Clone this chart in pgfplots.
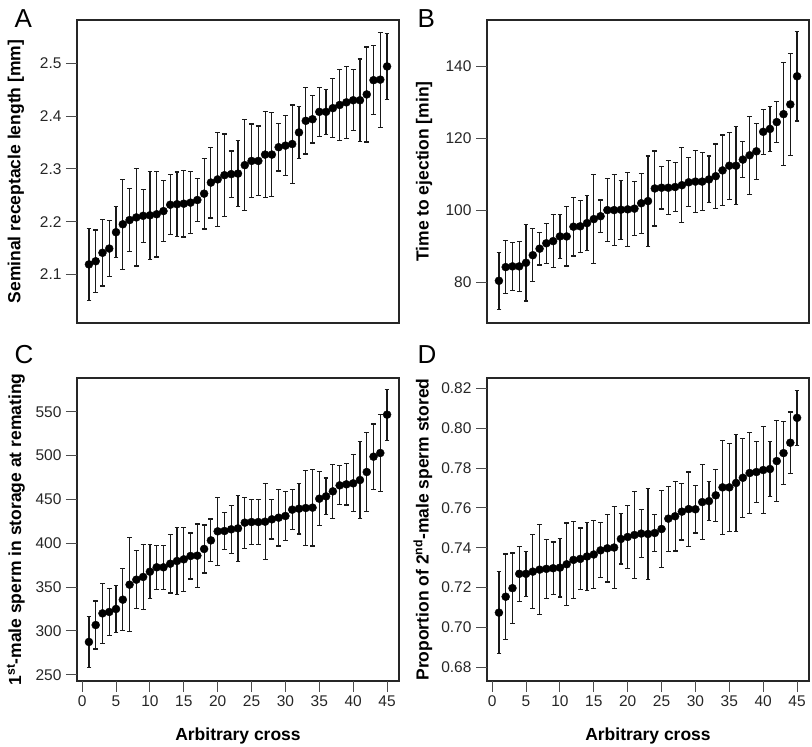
\documentclass[border=0pt]{standalone}
\usepackage{fontspec}
\setmainfont{Liberation Sans}
\usepackage{pgfplots}
\usepackage{pgfplotstable}
\pgfplotsset{compat=1.18}

% x = arbitrary cross, y = mean, e = half-width of the error bar
\pgfplotstableread{
x y e
1 2.119 0.068
2 2.125 0.059
3 2.141 0.063
4 2.149 0.053
5 2.180 0.048
6 2.195 0.085
7 2.203 0.060
8 2.208 0.092
9 2.211 0.050
10 2.212 0.083
11 2.214 0.081
12 2.220 0.058
13 2.232 0.057
14 2.233 0.061
15 2.234 0.063
16 2.236 0.059
17 2.241 0.041
18 2.253 0.067
19 2.274 0.067
20 2.280 0.089
21 2.288 0.078
22 2.290 0.044
23 2.291 0.063
24 2.307 0.086
25 2.315 0.070
26 2.315 0.066
27 2.327 0.082
28 2.327 0.079
29 2.341 0.045
30 2.344 0.057
31 2.347 0.074
32 2.369 0.049
33 2.391 0.063
34 2.394 0.045
35 2.408 0.046
36 2.408 0.043
37 2.415 0.056
38 2.421 0.067
39 2.426 0.068
40 2.430 0.058
41 2.430 0.078
42 2.441 0.090
43 2.468 0.065
44 2.469 0.090
45 2.494 0.062
}\tabA

\pgfplotstableread{
x y e
1 80.5 7.9
2 84.3 7.3
3 84.5 6.7
4 84.5 6.9
5 85.5 10.6
6 87.6 7.3
7 89.4 4.5
8 90.9 5.5
9 91.5 7.3
10 92.8 6.1
11 92.8 8.2
12 95.5 8.1
13 95.6 7.2
14 96.5 7.6
15 97.6 12.3
16 98.4 4.5
17 100.1 8.7
18 100.1 9.9
19 100.2 8.2
20 100.3 10.2
21 100.5 7.5
22 102.0 8.3
23 102.6 12.5
24 106.1 10.4
25 106.3 5.9
26 106.3 7.5
27 106.5 6.7
28 107.0 10.4
29 107.8 6.8
30 108.0 8.6
31 108.0 8.0
32 108.6 6.5
33 109.5 8.9
34 111.1 9.8
35 112.4 9.3
36 112.4 10.8
37 114.1 5.0
38 115.3 10.8
39 116.4 7.8
40 121.8 6.2
41 122.6 6.2
42 124.5 5.6
43 126.7 14.3
44 129.4 14.1
45 137.2 12.4
}\tabB

\pgfplotstableread{
x y e
1 287.5 29.4
2 306.8 27.3
3 320.1 34.4
4 321.7 27.0
5 325.1 26.6
6 335.7 35.5
7 352.8 53.6
8 358.5 33.1
9 361.6 37.2
10 367.6 30.8
11 372.6 25.3
12 372.6 25.3
13 376.7 33.4
14 379.8 38.2
15 381.7 36.5
16 385.5 26.2
17 385.9 36.1
18 393.5 27.4
19 403.3 24.3
20 413.6 38.9
21 414.0 21.5
22 415.9 27.2
23 417.0 37.6
24 423.5 29.1
25 424.2 25.5
26 424.2 25.5
27 424.6 43.3
28 427.3 22.4
29 429.2 32.3
30 431.1 27.9
31 438.3 23.0
32 439.4 28.9
33 440.2 42.9
34 440.6 43.7
35 450.8 30.6
36 453.5 20.9
37 459.2 30.6
38 466.0 22.2
39 467.2 23.6
40 468.3 32.5
41 472.1 43.5
42 481.2 45.0
43 498.7 37.2
44 502.9 43.5
45 546.6 29.1
}\tabC

\pgfplotstableread{
x y e
1 0.7074 0.0205
2 0.7154 0.0215
3 0.7197 0.0177
4 0.7269 0.0137
5 0.7269 0.0112
6 0.7280 0.0187
7 0.7290 0.0226
8 0.7294 0.0148
9 0.7297 0.0132
10 0.7300 0.0147
11 0.7317 0.0207
12 0.7339 0.0192
13 0.7344 0.0155
14 0.7356 0.0169
15 0.7366 0.0170
16 0.7387 0.0138
17 0.7397 0.0169
18 0.7401 0.0205
19 0.7444 0.0126
20 0.7454 0.0157
21 0.7464 0.0220
22 0.7471 0.0119
23 0.7469 0.0229
24 0.7474 0.0092
25 0.7494 0.0193
26 0.7546 0.0163
27 0.7558 0.0174
28 0.7581 0.0142
29 0.7594 0.0186
30 0.7593 0.0119
31 0.7629 0.0189
32 0.7634 0.0097
33 0.7663 0.0130
34 0.7703 0.0235
35 0.7703 0.0220
36 0.7725 0.0245
37 0.7751 0.0199
38 0.7775 0.0205
39 0.7780 0.0153
40 0.7790 0.0220
41 0.7795 0.0139
42 0.7835 0.0203
43 0.7875 0.0158
44 0.7927 0.0154
45 0.8052 0.0137
}\tabD

\pgfplotsset{
  panel/.style={
    width=322pt, height=303pt, scale only axis,
    xmin=-0.76, xmax=46.76,
    clip=false,
    axis line style={line width=1.3pt, black!85},
    tick align=outside,
    major tick length=11pt,
    tick style={line width=1pt, black!75},
    xtick pos=left, ytick pos=left,
    ticklabel style={font=\fontsize{15.5}{18}\selectfont, text=black!85},
    yticklabel style={xshift=-1pt},
    label style={font=\bfseries\fontsize{17.5}{20}\selectfont},
    ylabel style={at={(axis description cs:-0.19,0.5)}, anchor=center},
    xlabel style={at={(axis description cs:0.5,-0.195)}, anchor=base},
    xtick={0,5,...,45},
  },
  notx/.style={xtick=\empty},
  pts/.style={only marks, mark=*, mark size=4pt, black,
    error bars/.cd, y dir=both, y explicit,
    error bar style={line width=1.2pt, black!90},
    error mark options={rotate=90, mark size=2.4pt, line width=1.2pt, black!90}},
}
\tikzset{tk/.style={line width=1pt, black!70}}

\begin{document}
\begin{tikzpicture}
\useasboundingbox (0,0) rectangle (812pt,747pt);

% A
\begin{axis}[panel, notx, at={(77pt,424pt)},
  ymin=2.008, ymax=2.582,
  ytick={2.1,2.2,2.3,2.4,2.5}, yticklabels={2.1,2.2,2.3,2.4,2.5},
  ylabel={Seminal receptacle length [mm]}]
\addplot[pts] table[x=x, y=y, y error=e] {\tabA};
\pgfplotsinvokeforeach{2.1,2.2,2.3,2.4,2.5}{\draw[tk] (axis cs:-0.76,#1) -- ([xshift=-11pt]axis cs:-0.76,#1);}
\end{axis}

% B
\begin{axis}[panel, notx, at={(487pt,424pt)},
  ymin=68.8, ymax=152.8,
  ytick={80,100,120,140}, yticklabels={80,100,120,140},
  ylabel={Time to ejection [min]},
  ylabel style={at={(axis description cs:-0.195,0.5)}}]
\addplot[pts] table[x=x, y=y, y error=e] {\tabB};
\pgfplotsinvokeforeach{80,100,120,140}{\draw[tk] (axis cs:-0.76,#1) -- ([xshift=-11pt]axis cs:-0.76,#1);}
\end{axis}

% C
\begin{axis}[panel, at={(77pt,66pt)},
  ymin=243, ymax=588.4,
  ytick={250,300,...,550}, yticklabels={250,300,350,400,450,500,550},
  xticklabels={0,5,10,15,20,25,30,35,40,45},
  xlabel={Arbitrary cross},
  ylabel={1\textsuperscript{st}-male sperm in storage at remating}]
\addplot[pts] table[x=x, y=y, y error=e] {\tabC};
\pgfplotsinvokeforeach{250,300,350,400,450,500,550}{\draw[tk] (axis cs:-0.76,#1) -- ([xshift=-11pt]axis cs:-0.76,#1);}
\pgfplotsinvokeforeach{0,5,10,15,20,25,30,35,40,45}{\draw[tk] (axis cs:#1,243) -- ([yshift=-11pt]axis cs:#1,243);}
\end{axis}

% D
\begin{axis}[panel, at={(487pt,66pt)},
  ymin=0.6731, ymax=0.8252,
  ytick={0.68,0.70,0.72,0.74,0.76,0.78,0.80,0.82},
  yticklabels={0.68,0.70,0.72,0.74,0.76,0.78,0.80,0.82},
  xticklabels={0,5,10,15,20,25,30,35,40,45},
  xlabel={Arbitrary cross},
  ylabel={Proportion of 2\textsuperscript{nd}-male sperm stored},
  ylabel style={at={(axis description cs:-0.199,0.5)}}]
\addplot[pts] table[x=x, y=y, y error=e] {\tabD};
\pgfplotsinvokeforeach{0.68,0.70,0.72,0.74,0.76,0.78,0.80,0.82}{\draw[tk] (axis cs:-0.76,#1) -- ([xshift=-11pt]axis cs:-0.76,#1);}
\pgfplotsinvokeforeach{0,5,10,15,20,25,30,35,40,45}{\draw[tk] (axis cs:#1,0.6731) -- ([yshift=-11pt]axis cs:#1,0.6731);}
\end{axis}

% panel letters
\node[anchor=base west, font=\fontsize{26}{30}\selectfont] at (11pt,719pt) {A};
\node[anchor=base west, font=\fontsize{26}{30}\selectfont] at (414pt,719pt) {B};
\node[anchor=base west, font=\fontsize{26}{30}\selectfont] at (11pt,383pt) {C};
\node[anchor=base west, font=\fontsize{26}{30}\selectfont] at (414pt,383pt) {D};
\end{tikzpicture}
\end{document}
